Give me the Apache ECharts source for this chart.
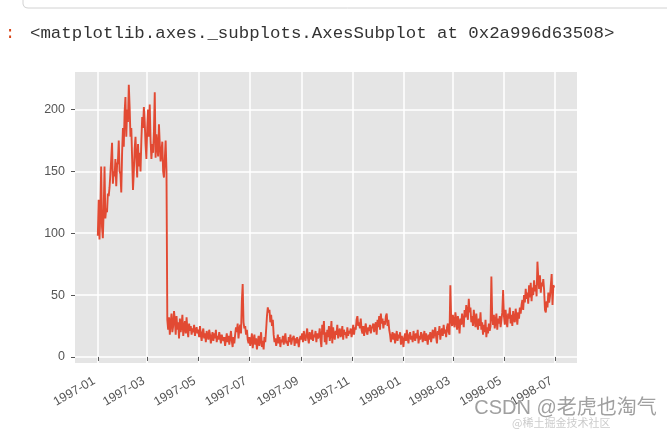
<!DOCTYPE html>
<html><head><meta charset="utf-8">
<script src="https://cdn.jsdelivr.net/npm/echarts@6/dist/echarts.min.js"></script>
<style>html,body{margin:0;padding:0;background:#fff}#c{width:667px;height:432px}</style>
</head><body><div id="c"></div>
<script>
const startYear = 1997;
const jan97 = [98, 127, 95, 115, 154, 105, 96, 118, 154, 112, 120, 117, 132, 130, 137, 148, 160, 173, 140, 150, 146, 160, 138, 155, 158, 175, 150, 148, 133, 165, 185];
const feb97 = [170, 198, 210, 178, 200, 190, 220, 202, 178, 185, 160, 135, 150, 168, 178, 160, 145, 172, 154, 165, 150, 175, 194, 185, 202, 190, 172, 160];
const mar97 = [185, 200, 178, 204, 175, 160, 172, 165, 182, 214, 161, 180, 170, 162, 188, 172, 158, 166, 174, 150, 145, 160, 175, 150, 30, 22, 32, 18, 28, 35, 20];
const apr97 = [25, 37, 30, 18, 33, 22, 28, 15, 31, 20, 26, 34, 17, 24, 29, 19, 32, 22, 16, 27, 21, 25, 18, 23, 20, 26, 17, 22, 24, 19];
const may97 = [22, 16, 25, 18, 13, 20, 23, 15, 19, 12, 21, 17, 14, 22, 18, 11, 16, 20, 13, 19, 15, 22, 12, 17, 14, 20, 16, 11, 18, 15, 13];
const jun97 = [16, 9, 14, 19, 12, 17, 10, 15, 21, 13, 8, 16, 11, 18, 24, 20, 27, 15, 22, 26, 19, 45, 59, 28, 23, 25, 18, 22, 14, 11];
const jul97 = [16, 9, 13, 19, 7, 14, 18, 10, 15, 6, 12, 17, 9, 14, 20, 8, 13, 6, 16, 12, 22, 33, 40, 36, 38, 28, 34, 25, 30, 18, 12];
const aug97 = [15, 9, 13, 18, 11, 16, 8, 14, 12, 17, 10, 15, 19, 11, 13, 9, 16, 12, 18, 10, 14, 13, 17, 9, 15, 11, 16, 13, 8, 14, 17];
const sep97 = [14, 19, 12, 21, 16, 13, 18, 23, 15, 11, 20, 17, 14, 22, 13, 18, 16, 21, 12, 19, 15, 17, 23, 14, 8, 26, 18, 29, 12, 20];
const oct97 = [10, 22, 16, 25, 13, 19, 29, 11, 24, 17, 14, 21, 18, 26, 15, 20, 23, 16, 19, 25, 14, 22, 18, 20, 15, 24, 17, 21, 19, 23, 16];
const nov97 = [20, 26, 18, 24, 22, 30, 33, 25, 28, 23, 31, 22, 19, 25, 17, 23, 27, 20, 18, 24, 21, 26, 19, 23, 22, 27, 20, 25, 28, 18];
const dec97 = [30, 24, 33, 22, 35, 27, 31, 23, 29, 26, 33, 35, 25, 30, 22, 18, 12, 17, 20, 14, 19, 11, 16, 21, 13, 18, 15, 20, 10, 17, 14];
const jan98 = [8, 16, 19, 13, 22, 15, 11, 18, 20, 14, 17, 12, 21, 16, 13, 19, 15, 22, 11, 17, 14, 20, 18, 12, 16, 21, 13, 19, 15, 10, 18];
const feb98 = [14, 20, 12, 17, 22, 15, 19, 24, 16, 11, 21, 18, 25, 14, 20, 23, 17, 26, 19, 22, 16, 24, 27, 20, 18, 58, 30, 25];
const mar98 = [34, 28, 24, 36, 30, 22, 33, 27, 19, 31, 26, 35, 29, 24, 38, 32, 42, 35, 30, 47, 36, 40, 28, 33, 25, 38, 30, 24, 35, 27, 22];
const apr98 = [31, 25, 36, 22, 28, 18, 26, 20, 30, 16, 24, 19, 27, 21, 25, 65, 32, 26, 34, 23, 29, 35, 22, 31, 27, 33, 24, 30, 36, 54];
const may98 = [33, 26, 38, 29, 24, 35, 31, 40, 27, 34, 25, 37, 30, 28, 39, 33, 26, 36, 31, 40, 35, 42, 46, 38, 50, 44, 55, 47, 52, 43, 58];
const jun98 = [48, 60, 45, 56, 50, 62, 53, 58, 49, 77, 64, 55, 66, 52, 60, 57, 63, 54, 38, 36, 45, 40, 52, 44, 49, 48, 67, 42, 58, 56];

const monthlySeries = [jan97, feb97, mar97, apr97, may97, jun97, jul97, aug97, sep97, oct97, nov97, dec97,
                       jan98, feb98, mar98, apr98, may98, jun98];
const xTickLabels = ['1997-01', '1997-03', '1997-05', '1997-07', '1997-09', '1997-11',
                     '1998-01', '1998-03', '1998-05', '1998-07'];
const yTickValues = [0, 50, 100, 150, 200];
const headerText = '<matplotlib.axes._subplots.AxesSubplot at 0x2a996d63508>';
const watermark = 'CSDN @老虎也淘气';

const DAY = 86400000;
const data = [];
monthlySeries.forEach((arr, mi) => {
  const yy = startYear + Math.floor(mi / 12), mm = mi % 12;
  arr.forEach((v, di) => data.push([Date.UTC(yy, mm, di + 1), v]));
});
const xTickValues = xTickLabels.map(s => { const p = s.split('-').map(Number); return Date.UTC(p[0], p[1] - 1, 1); });
const first = data[0][0], last = data[data.length - 1][0], span = last - first;
const xMin = first - 0.05 * span, xMax = last + 0.05 * span;

const chart = echarts.init(document.getElementById('c'), null, { renderer: 'canvas' });
chart.setOption({
  animation: false,
  backgroundColor: '#ffffff',
  grid: { left: 75, top: 72, width: 502, height: 291, show: true, backgroundColor: '#E5E5E5', borderWidth: 0, containLabel: false },
  xAxis: {
    type: 'value', min: xMin, max: xMax,
    axisLine: { show: false },
    axisTick: { show: true, length: 4, lineStyle: { color: '#555', width: 1 }, customValues: xTickValues },
    axisLabel: {
      customValues: xTickValues, rotate: 30, margin: 15, color: '#555', fontSize: 12.5,
      fontFamily: 'Liberation Sans', padding: [0, 4, 0, 0],
      formatter: v => { let i = -1; xTickValues.forEach((t, k) => { if (Math.abs(t - v) < DAY) i = k; }); return i >= 0 ? xTickLabels[i] : ''; }
    },
    splitLine: { show: true, lineStyle: { color: '#ffffff', width: 1.5 } }
  },
  yAxis: {
    type: 'value', min: -4.9, max: 230.3,
    axisLine: { show: false },
    axisTick: { show: true, length: 4, lineStyle: { color: '#555', width: 1 }, customValues: yTickValues },
    axisLabel: { customValues: yTickValues, margin: 10, color: '#555', fontSize: 12.5, fontFamily: 'Liberation Sans' },
    splitLine: { show: true, lineStyle: { color: '#ffffff', width: 1.5 } }
  },
  series: [{
    type: 'line', data: data, showSymbol: false, sampling: null,
    lineStyle: { color: '#E24A33', width: 1.9 }, itemStyle: { color: '#E24A33' }
  }],
  graphic: [
    { type: 'polyline', shape: { points: [[23, 0], [23, 4], [24, 6.5], [26, 7.7], [28, 8], [667, 8]] }, style: { fill: null, stroke: '#d2d2d2', lineWidth: 1 } },
    { type: 'text', left: 5, top: 25, style: { text: ':', fill: '#D84315', font: '17px "Liberation Mono"' } },
    { type: 'text', left: 30, top: 25, style: { text: headerText, fill: '#333333', font: '17.4px "Liberation Mono"' } },
    { type: 'text', left: 474, top: 398, z: 100, style: { text: watermark, fill: '#a0a0a0', stroke: '#ffffff', lineWidth: 0.5, font: '20px "Liberation Sans", "Noto Sans CJK SC"' } },
    { type: 'text', left: 512, top: 417, z: 99, style: { text: '@稀土掘金技术社区', fill: '#cccccc', font: '11px "Noto Sans CJK SC"' } }
  ]
});
</script></body></html>
